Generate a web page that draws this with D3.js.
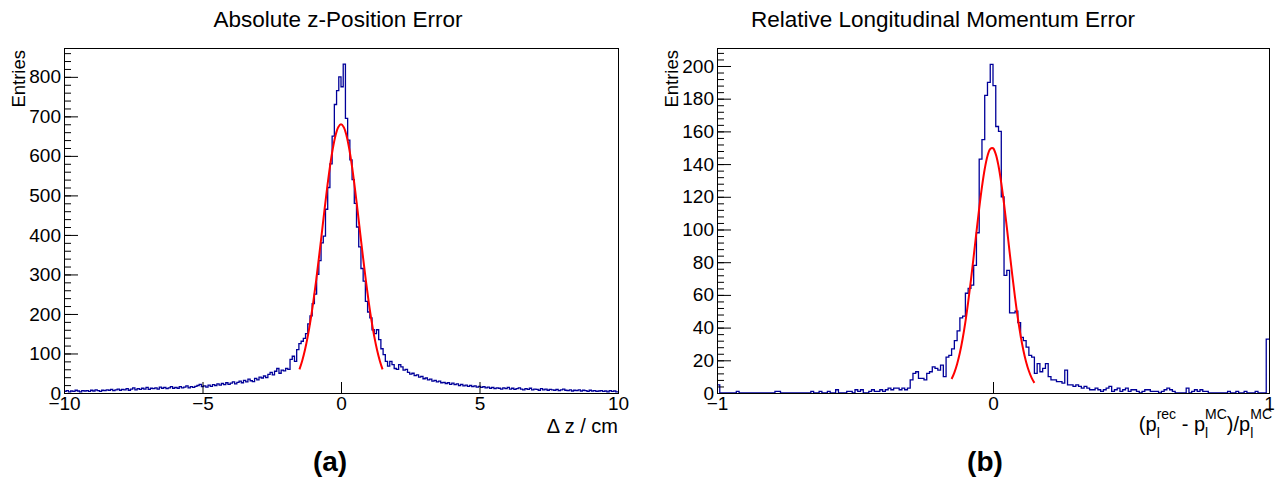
<!DOCTYPE html>
<html><head><meta charset="utf-8">
<script src="https://cdn.jsdelivr.net/npm/d3@7"></script>
<style>
body{margin:0;background:#fff}
svg{display:block}
text{font-family:"Liberation Sans",Arial,Helvetica,sans-serif}
</style>
</head><body>
<svg id="c" width="1277" height="479"></svg>
<script>
// ---------------- data: panel (a) ----------------
const zTitle = "Absolute z-Position Error";
const zRange = [-10, 10];
const zCounts = [
  4,6,3,5,4,7,5,3,6,5,
  6,4,7,5,8,6,4,7,6,8,
  7,9,6,8,10,7,9,8,11,7,
  10,13,8,11,9,12,10,14,9,12,
  11,13,10,15,12,14,11,13,16,12,
  14,12,16,13,15,18,13,16,14,17,
  19,22,16,18,15,20,17,21,19,23,
  20,24,21,26,22,25,28,23,27,30,
  26,32,28,35,31,29,37,33,40,38,
  43,39,47,52,46,55,62,50,58,56,
  62,60,85,93,80,110,125,131,138,150,
  175,195,226,250,300,335,380,397,465,520,
  580,650,730,765,800,775,832,695,640,590,
  540,480,420,370,315,283,232,205,190,160,
  150,160,135,112,97,80,68,80,72,62,
  60,
  72,66,58,60,52,48,50,44,46,40,
  42,36,38,33,35,30,32,28,30,26,
  27,24,26,22,25,21,23,19,22,18,
  20,17,19,16,18,15,17,14,16,13,
  15,12,14,11,13,12,10,13,11,14,
  10,12,9,11,13,10,8,11,9,12,
  8,10,9,7,11,8,10,7,9,8,
  7,9,6,8,10,7,6,8,5,7,
  6,8,5,7,6,4,7,5,6,4,
  5,6,4,5,3,6,4,5,3
];
const zFitX = [-1.5,-1.4,-1.3,-1.2,-1.1,-1.0,-0.9,-0.8,-0.7,-0.6,-0.5,-0.4,-0.3,-0.2,-0.1,0,
               0.1,0.2,0.3,0.4,0.5,0.6,0.7,0.8,0.9,1.0,1.1,1.2,1.3,1.4,1.5];
const zFitY = [59.7,81.7,109.4,143.3,183.8,230.6,283.2,340.4,400.3,460.7,518.9,572.0,616.9,651.2,672.7,680,
               672.7,651.2,616.9,572.0,518.9,460.7,400.3,340.4,283.2,230.6,183.8,143.3,109.4,81.7,59.7];
const zXTicks = [-10, -5, 0, 5, 10];
const zXTickLabels = ["\u221210", "\u22125", "0", "5", "10"];
const zYTicks = [0, 100, 200, 300, 400, 500, 600, 700, 800];
const zYMax = 873;

// ---------------- data: panel (b) ----------------
const pTitle = "Relative Longitudinal Momentum Error";
const pRange = [-1, 1];
const pCounts = [
  5,0,0,0,0,0,0,1,0,0,
  0,0,0,0,0,0,0,0,0,0,
  0,1,1,0,0,0,0,0,0,0,
  0,0,0,0,1,0,0,1,0,0,
  1,0,0,2,0,0,0,1,1,0,
  2,1,2,0,0,1,2,1,1,2,
  1,2,3,2,3,3,2,3,2,3,
  8,12,13,9,9,8,12,13,16,15,
  14,17,10,22,23,27,32,38,46,47,
  61,64,66,78,98,143,155,182,190,201,
  188,163,160,120,72,75,49,49,50,43,
  34,32,28,23,22,12,18,13,15,18,
  10,8,8,7,7,6,14,5,5,4,
  5,4,3,4,3,2,2,3,2,1,
  2,3,4,1,2,3,1,2,3,1,
  2,2,1,0,1,2,2,1,1,1,
  0,1,2,3,2,1,0,0,0,0,
  3,0,1,2,1,2,1,1,0,0,
  0,0,0,0,0,1,0,0,1,0,
  0,1,0,0,0,1,0,0,0,33
];
const pFitX = [-0.15,-0.14,-0.13,-0.12,-0.11,-0.10,-0.09,-0.08,-0.07,-0.06,-0.05,-0.04,-0.03,-0.02,-0.01,0,
               0.01,0.02,0.03,0.04,0.05,0.06,0.07,0.08,0.09,0.10,0.11,0.12,0.13,0.14,0.15];
const pFitY = [8.55,12.49,17.77,24.59,33.15,43.48,55.53,69.03,83.54,98.42,112.88,126.03,136.97,144.93,149.28,149.68,
               146.10,138.83,128.42,115.64,101.38,86.51,71.87,58.12,45.76,35.07,26.16,19.00,13.44,9.25,6.19];
const pXTicks = [-1, 0, 1];
const pXTickLabels = ["\u22121", "0", "1"];
const pYTicks = [0, 20, 40, 60, 80, 100, 120, 140, 160, 180, 200];
const pYMax = 211;

// ---------------- drawing ----------------
const svg = d3.select("#c");

function drawPanel(cfg) {
  const x = d3.scaleLinear().domain(cfg.range).range([cfg.left, cfg.right]);
  const y = d3.scaleLinear().domain([0, cfg.yMax]).range([cfg.bottom, cfg.top]);
  const g = svg.append("g");

  // title
  g.append("text").attr("x", cfg.titleX).attr("y", 27)
    .attr("text-anchor", "middle").attr("font-size", 22.5).text(cfg.title);

  // histogram
  const n = cfg.counts.length;
  const w = (cfg.range[1] - cfg.range[0]) / n;
  const pts = cfg.counts.map((c, i) => [cfg.range[0] + i * w, c]);
  pts.push([cfg.range[1], cfg.counts[n - 1]]);
  g.append("path")
    .attr("d", d3.line().x(d => x(d[0])).y(d => y(d[1])).curve(d3.curveStepAfter)(pts))
    .attr("fill", "none").attr("stroke", "#000099").attr("stroke-width", 1.3);

  // fit curve
  g.append("path")
    .attr("d", d3.line().x((d, i) => x(cfg.fitX[i])).y(d => y(d)).curve(d3.curveCatmullRom)(cfg.fitY))
    .attr("fill", "none").attr("stroke", "#ff0000").attr("stroke-width", 2);

  // frame
  g.append("rect").attr("x", cfg.left + 0.5).attr("y", cfg.top + 0.5)
    .attr("width", cfg.right - cfg.left).attr("height", cfg.bottom - cfg.top)
    .attr("fill", "none").attr("stroke", "#000").attr("stroke-width", 1);

  // y axis: major + minor ticks pointing inward
  const minor = d3.range(0, cfg.yMax, cfg.yMinor);
  const ym = g.append("g").attr("transform", `translate(${cfg.left},0)`)
    .call(d3.axisLeft(y).tickValues(minor).tickSize(-7).tickFormat(""));
  ym.select(".domain").remove();
  const yM = g.append("g").attr("transform", `translate(${cfg.left},0)`)
    .call(d3.axisLeft(y).tickValues(cfg.yTicks).tickSizeInner(-14).tickSizeOuter(0).tickPadding(3).tickFormat(d3.format("d")));
  yM.select(".domain").remove();
  yM.selectAll("text").attr("font-size", 19).attr("font-family", "Liberation Sans, Arial, sans-serif").attr("fill", "#000");
  g.selectAll(".tick line").attr("stroke", "#000");

  // x axis
  const xa = g.append("g").attr("transform", `translate(0,${cfg.bottom})`)
    .call(d3.axisBottom(x).tickValues(cfg.xTicks).tickSizeInner(-11).tickSizeOuter(0).tickPadding(4)
      .tickFormat((d, i) => cfg.xLabels[i]));
  xa.select(".domain").remove();
  xa.selectAll("text").attr("font-size", 19).attr("font-family", "Liberation Sans, Arial, sans-serif").attr("fill", "#000");
  xa.selectAll(".tick line").attr("stroke", "#000");

  // y title
  g.append("text").attr("transform", `translate(${cfg.left - 39},${cfg.top + 2}) rotate(-90)`)
    .attr("text-anchor", "end").attr("font-size", 18.5).text("Entries");

  // tag
  g.append("text").attr("x", cfg.tagX).attr("y", 471).attr("text-anchor", "middle")
    .attr("font-family", "Liberation Serif, Times New Roman, serif").attr("font-weight", "bold")
    .attr("font-size", 28).text(cfg.tag);
  return g;
}

const ga = drawPanel({
  title: zTitle, titleX: 338, range: zRange, counts: zCounts, fitX: zFitX, fitY: zFitY,
  xTicks: zXTicks, xLabels: zXTickLabels, yTicks: zYTicks, yMax: zYMax, yMinor: 20,
  left: 64, right: 618, top: 48, bottom: 393, tag: "(a)", tagX: 330
});
ga.append("text").attr("x", 618).attr("y", 433).attr("text-anchor", "end")
  .attr("font-size", 20).text("\u0394 z / cm");

const gb = drawPanel({
  title: pTitle, titleX: 943, range: pRange, counts: pCounts, fitX: pFitX, fitY: pFitY,
  xTicks: pXTicks, xLabels: pXTickLabels, yTicks: pYTicks, yMax: pYMax, yMinor: 4,
  left: 717, right: 1269, top: 48, bottom: 393, tag: "(b)", tagX: 985
});
const xt = gb.append("text").attr("x", 1272).attr("y", 431).attr("text-anchor", "end").attr("font-size", 20);
const subSize = 14, lW = 3.1;
xt.append("tspan").text("(p");
xt.append("tspan").attr("font-size", subSize).attr("dy", 7).text("l");
xt.append("tspan").attr("font-size", subSize).attr("dx", -lW).attr("dy", -19).text("rec");
xt.append("tspan").attr("dy", 12).text(" - p");
xt.append("tspan").attr("font-size", subSize).attr("dy", 7).text("l");
xt.append("tspan").attr("font-size", subSize).attr("dx", -lW).attr("dy", -19).text("MC");
xt.append("tspan").attr("dy", 12).text(")/p");
xt.append("tspan").attr("font-size", subSize).attr("dy", 7).text("l");
xt.append("tspan").attr("font-size", subSize).attr("dx", -lW).attr("dy", -19).text("MC");
</script>
</body></html>
